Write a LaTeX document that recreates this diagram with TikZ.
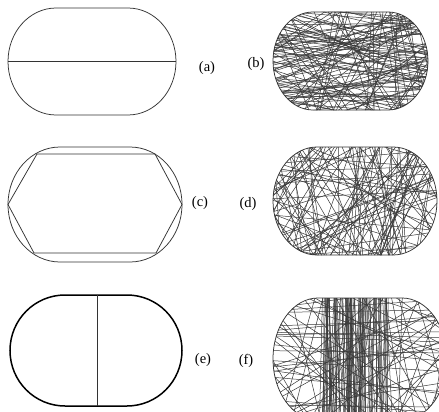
\documentclass[tikz,border=0pt]{standalone}
\usepackage{fontspec}
\setmainfont{Liberation Serif}
\tikzset{
  lab/.style={font=\fontsize{14.5}{16}\selectfont, inner sep=0pt},
  outline/.style={draw=black!80, line width=0.75pt},
  thickoutline/.style={draw=black, line width=1.5pt},
  fibre/.style={draw=black!78, line width=0.5pt},
}
% L T R B rx style
\newcommand{\stad}[6]{\draw[#6] (#1+#5,#2) -- (#3-#5,#2) arc[start angle=-90,end angle=90,x radius=#5,y radius={(#4-#2)/2}] -- (#1+#5,#4) arc[start angle=90,end angle=270,x radius=#5,y radius={(#4-#2)/2}] -- cycle;}
\newcommand{\stadclip}[5]{\clip (#1+#5,#2) -- (#3-#5,#2) arc[start angle=-90,end angle=90,x radius=#5,y radius={(#4-#2)/2}] -- (#1+#5,#4) arc[start angle=90,end angle=270,x radius=#5,y radius={(#4-#2)/2}] -- cycle;}
% L T R B n amin amax
\newcommand{\chords}[7]{%
  \foreach \i in {1,...,#5}{%
    \pgfmathsetmacro\px{#1+rnd*(#3-#1)}%
    \pgfmathsetmacro\py{#2+rnd*(#4-#2)}%
    \pgfmathsetmacro\ang{#6+rnd*(#7-#6)}%
    \draw[fibre] (\px,\py) ++(\ang:-260) -- ++(\ang:520);
  }}
\begin{document}
\begin{tikzpicture}[x=1pt,y=-1pt]
\useasboundingbox (0,0) rectangle (439,412);
\clip (0,0) rectangle (439,412);
\pgfmathsetseed{4711}
% ---------- (a)
\stad{8}{8}{176}{115}{48}{outline}
\coordinate (al) at (8,61.5);
\coordinate (ar) at (176,61.5);
\draw[outline] (al) -- (ar);
\node[lab] (la) at (207,68) {(a)};
% ---------- (b)
\begin{scope}
  \stadclip{273}{12}{428}{110}{40}
  \chords{273}{12}{428}{110}{85}{0}{180}
  \chords{273}{12}{428}{110}{45}{-18}{18}
\end{scope}
\stad{273}{12}{428}{110}{40}{outline}
\node[lab] (lb) at (256,64) {(b)};
% ---------- (c)
\stad{8}{147}{182}{262}{52}{outline}
\coordinate (h1) at (8,204.5);
\coordinate (h2) at (37,154);
\coordinate (h3) at (155,154);
\coordinate (h4) at (182,204.5);
\coordinate (h5) at (156,253);
\coordinate (h6) at (34,253);
\draw[outline] (h1) -- (h2) -- (h3) -- (h4) -- (h5) -- (h6) -- cycle;
\node[lab] (lc) at (200,203) {(c)};
% ---------- (d)
\begin{scope}
  \stadclip{273}{147}{437}{255}{44}
  \chords{273}{147}{437}{255}{70}{0}{180}
  \chords{273}{147}{437}{255}{40}{55}{125}
\end{scope}
\stad{273}{147}{437}{255}{44}{outline}
\node[lab] (ld) at (248,204) {(d)};
% ---------- (e)
\stad{10}{295}{182}{406}{55}{thickoutline}
\coordinate (et) at (97,295);
\coordinate (eb) at (97,406);
\draw[outline] (et) -- (eb);
\node[lab] (le) at (203,360) {(e)};
% ---------- (f)
\begin{scope}
  \stadclip{273}{298}{447}{420}{45}
  \chords{273}{298}{447}{420}{50}{0}{180}
  \chords{273}{298}{447}{420}{16}{-8}{8}
  \chords{322}{298}{390}{420}{85}{86}{94}
\end{scope}
\stad{273}{298}{447}{420}{45}{outline}
\node[lab] (lf) at (246,361) {(f)};
\end{tikzpicture}
\end{document}
